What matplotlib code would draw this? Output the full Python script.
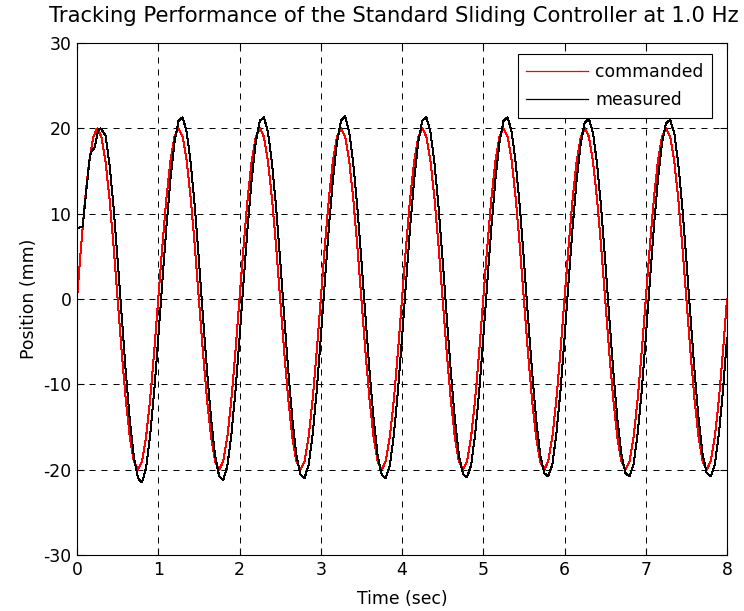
import numpy as np
import matplotlib
matplotlib.use("Agg")
import matplotlib.pyplot as plt

plt.rcParams['font.family'] = ['DejaVu Sans']
plt.rcParams['axes.unicode_minus'] = False

# Sample period of the logged data (s)
dt = 0.05

# Commanded position (mm), 1.0 Hz, sampled every 0.05 s from 0 to 8 s
commanded = [
    0.0, 6.18, 11.76, 16.18, 19.02, 20.0, 19.02, 16.18, 11.76, 6.18,
    0.0, -6.18, -11.76, -16.18, -19.02, -20.0, -19.02, -16.18, -11.76, -6.18,
    0.0, 6.18, 11.76, 16.18, 19.02, 20.0, 19.02, 16.18, 11.76, 6.18,
    0.0, -6.18, -11.76, -16.18, -19.02, -20.0, -19.02, -16.18, -11.76, -6.18,
    0.0, 6.18, 11.76, 16.18, 19.02, 20.0, 19.02, 16.18, 11.76, 6.18,
    0.0, -6.18, -11.76, -16.18, -19.02, -20.0, -19.02, -16.18, -11.76, -6.18,
    0.0, 6.18, 11.76, 16.18, 19.02, 20.0, 19.02, 16.18, 11.76, 6.18,
    0.0, -6.18, -11.76, -16.18, -19.02, -20.0, -19.02, -16.18, -11.76, -6.18,
    0.0, 6.18, 11.76, 16.18, 19.02, 20.0, 19.02, 16.18, 11.76, 6.18,
    0.0, -6.18, -11.76, -16.18, -19.02, -20.0, -19.02, -16.18, -11.76, -6.18,
    0.0, 6.18, 11.76, 16.18, 19.02, 20.0, 19.02, 16.18, 11.76, 6.18,
    0.0, -6.18, -11.76, -16.18, -19.02, -20.0, -19.02, -16.18, -11.76, -6.18,
    0.0, 6.18, 11.76, 16.18, 19.02, 20.0, 19.02, 16.18, 11.76, 6.18,
    0.0, -6.18, -11.76, -16.18, -19.02, -20.0, -19.02, -16.18, -11.76, -6.18,
    0.0, 6.18, 11.76, 16.18, 19.02, 20.0, 19.02, 16.18, 11.76, 6.18,
    0.0, -6.18, -11.76, -16.18, -19.02, -20.0, -19.02, -16.18, -11.76, -6.18,
    0.0,
]

# Measured start-up transient (first 0.3 s, irregular timestamps)
measured_start_t = [0.0, 0.0, 0.07, 0.10, 0.15, 0.17, 0.22, 0.26, 0.29]
measured_start_pos = [0.0, 8.3, 8.5, 11.3, 16.0, 17.2, 17.8, 19.8, 20.0]

# Measured position (mm) from 0.35 s to 8 s, every 0.05 s
measured = [
    19.2, 15.8, 10.8, 4.6,
    -2.0, -8.5, -14.2, -18.5, -21.0, -21.5, -19.8, -16.0, -10.8,
    -4.6, 2.0, 8.4, 14.0, 18.4, 20.9, 21.3, 19.6, 15.9, 10.8,
    4.6, -2.0, -8.4, -14.0, -18.4, -20.8, -21.2, -19.6, -15.9, -10.8,
    -4.6, 2.0, 8.4, 14.0, 18.4, 20.9, 21.3, 19.6, 15.9, 10.8,
    4.6, -2.0, -8.4, -14.0, -18.3, -20.6, -21.0, -19.5, -15.9, -10.8,
    -4.6, 2.0, 8.4, 14.0, 18.4, 20.9, 21.4, 19.6, 15.9, 10.8,
    4.6, -2.0, -8.4, -14.0, -18.3, -20.6, -21.0, -19.5, -15.9, -10.8,
    -4.6, 2.0, 8.4, 14.0, 18.4, 20.9, 21.3, 19.6, 15.9, 10.8,
    4.6, -2.0, -8.4, -14.0, -18.3, -20.5, -20.9, -19.5, -15.9, -10.8,
    -4.6, 2.0, 8.4, 14.0, 18.4, 20.9, 21.3, 19.6, 15.9, 10.8,
    4.6, -2.0, -8.4, -14.0, -18.2, -20.4, -20.8, -19.4, -15.8, -10.8,
    -4.6, 2.0, 8.4, 14.0, 18.3, 20.7, 21.1, 19.5, 15.9, 10.8,
    4.6, -2.0, -8.4, -14.0, -18.2, -20.4, -20.8, -19.4, -15.8, -10.8,
    -4.6, 2.0, 8.4, 14.0, 18.3, 20.6, 21.0, 19.5, 15.9, 10.8,
    4.6, -2.0, -8.4, -14.0, -18.2, -20.4, -20.8, -19.4, -15.8, -10.8,
    -4.6,
]

x_ticks = [0, 1, 2, 3, 4, 5, 6, 7, 8]
y_ticks = [-30, -20, -10, 0, 10, 20, 30]

t_cmd = np.arange(len(commanded)) * dt
t_meas = np.concatenate([measured_start_t, 0.35 + np.arange(len(measured)) * dt])
y_meas = np.concatenate([measured_start_pos, measured])

fig = plt.figure(figsize=(7.44, 6.11), dpi=100)
ax = fig.add_axes([77 / 744, 1 - 555 / 611, 650 / 744, 512 / 611])

ax.plot(t_cmd, commanded, color='red', lw=0.72, label='commanded', antialiased=False)
ax.plot(t_meas, y_meas, color='black', lw=0.72, label='measured', antialiased=False)

ax.set_xlim(0, 8)
ax.set_ylim(-30, 30)
ax.set_xticks(x_ticks)
ax.set_yticks(y_ticks)
ax.grid(True, color='black', lw=0.72, ls=(0, (6, 6)))
ax.tick_params(direction='in', length=5, width=0.8, top=True, right=True,
               labelsize=12.4, pad=4)
for s in ax.spines.values():
    s.set_linewidth(0.8)

ax.set_title('Tracking Performance of the Standard Sliding Controller at 1.0 Hz',
             fontsize=15.2, pad=15, x=0.488)
ax.set_xlabel('Time (sec)', fontsize=12.4, labelpad=8)
ax.set_ylabel('Position (mm)', fontsize=12.4, labelpad=4)

leg = ax.legend(loc='upper right', bbox_to_anchor=(0.977, 0.9785), borderaxespad=0,
                fontsize=12.4, frameon=True, fancybox=False, shadow=False,
                handlelength=3.6, handletextpad=0.4, labelspacing=0.62,
                borderpad=0.5, framealpha=1)
leg.get_frame().set_edgecolor('black')
leg.get_frame().set_linewidth(0.8)
for handle in leg.get_lines():
    handle.set_antialiased(True)
    handle.set_linewidth(0.9)

fig.savefig('out.png', dpi=100)
